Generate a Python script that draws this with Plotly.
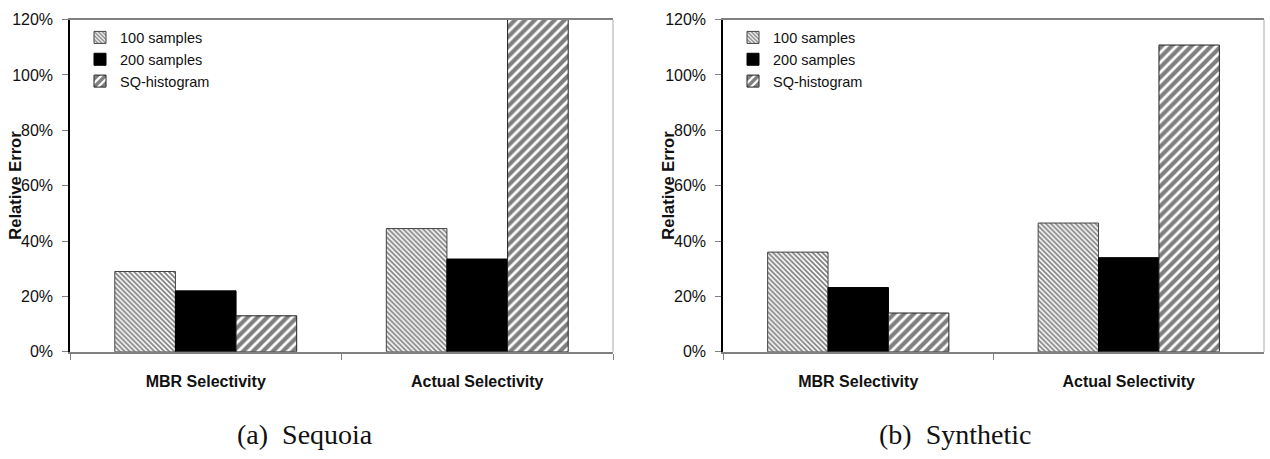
import plotly.graph_objects as go

# Relative error (%) of selectivity estimation
categories = ["MBR Selectivity", "Actual Selectivity"]
series_names = ["100 samples", "200 samples", "SQ-histogram"]

sequoia_100 = [29, 44.5]
sequoia_200 = [22, 33.5]
sequoia_sq = [13, 140]

synthetic_100 = [36, 46.5]
synthetic_200 = [23.2, 34]
synthetic_sq = [14, 110.8]

y_ticks = [0, 20, 40, 60, 80, 100, 120]
y_tick_labels = ["0%", "20%", "40%", "60%", "80%", "100%", "120%"]

W, H = 1270, 459

styles = [
    dict(color="white", line=dict(color="#444444", width=1),
         pattern=dict(shape="\\", size=3.5, solidity=0.5, fgcolor="black", bgcolor="white")),
    dict(color="black", line=dict(color="black", width=1)),
    dict(color="white", line=dict(color="#222222", width=1),
         pattern=dict(shape="/", size=7, solidity=0.6, fgcolor="black", bgcolor="white")),
]

fig = go.Figure()

panels = [
    ("x", "y", "legend", [sequoia_100, sequoia_200, sequoia_sq]),
    ("x2", "y2", "legend2", [synthetic_100, synthetic_200, synthetic_sq]),
]
for xa, ya, lg, data in panels:
    for name, vals, st in zip(series_names, data, styles):
        fig.add_trace(go.Bar(
            x=categories, y=vals, name=name, marker=st,
            xaxis=xa, yaxis=ya, legend=lg, hoverinfo="skip",
        ))

def px_x(p):
    return p / W

def px_y(p):
    return 1 - p / H

top, bottom = 12, 357
doms_x = [(70, 613), (723, 1264)]

tick_font = dict(family="Liberation Sans, Arial", size=16, color="#111111")
cat_font = dict(family="Liberation Sans, Arial", size=16, color="#111111", weight="bold")

for i, (x0, x1) in enumerate(doms_x):
    sx = "" if i == 0 else "2"
    fig.update_layout(**{
        f"xaxis{sx}": dict(
            domain=[px_x(x0), px_x(x1)], anchor=f"y{sx}",
            showline=True, linecolor="#808080", linewidth=1.5, mirror=True,
            ticks="outside", tickson="boundaries", ticklen=6, tickcolor="#808080",
            tickfont=cat_font, ticklabelstandoff=14, showgrid=False, fixedrange=True,
        ),
        f"yaxis{sx}": dict(
            domain=[px_y(bottom), px_y(top)], anchor=f"x{sx}",
            range=[0, 120], tickvals=y_ticks, ticktext=y_tick_labels,
            showline=True, linecolor="black", linewidth=1.5,
            ticks="outside", ticklen=6, tickcolor="#808080",
            tickfont=tick_font, ticklabelstandoff=6, showgrid=False, zeroline=False,
            fixedrange=True,
        ),
    })
    # right-hand frame edge of the plot area
    fig.add_shape(type="line", xref="paper", yref="paper",
                  x0=px_x(x1), x1=px_x(x1), y0=px_y(bottom), y1=px_y(top),
                  line=dict(color="#b8b8b8", width=1.2))
    # y-axis title
    fig.add_annotation(text="<b>Relative Error</b>", textangle=-90,
                       xref="paper", yref="paper", x=px_x(x0 - 55), y=px_y((top + bottom) / 2),
                       xanchor="center", yanchor="middle", showarrow=False,
                       font=dict(family="Liberation Sans, Arial", size=16.5, color="#111111"))

legend_common = dict(
    xanchor="left", yanchor="top", bgcolor="rgba(0,0,0,0)", borderwidth=0,
    font=dict(family="Liberation Sans, Arial", size=14.5, color="#111111"),
    tracegroupgap=0, itemclick=False, itemdoubleclick=False,
)
fig.update_layout(
    legend=dict(x=px_x(80), y=px_y(14), **legend_common),
    legend2=dict(x=px_x(733), y=px_y(14), **legend_common),
)

captions = [("(a)  Sequoia", 305), ("(b)  Synthetic", 955)]
for text, cx in captions:
    fig.add_annotation(text=text, xref="paper", yref="paper",
                       x=px_x(cx), y=px_y(443), xanchor="center", yanchor="middle",
                       showarrow=False,
                       font=dict(family="Liberation Serif, serif", size=28, color="#111111"))

fig.update_layout(
    width=W, height=H, margin=dict(l=0, r=0, t=0, b=0),
    paper_bgcolor="white", plot_bgcolor="white",
    barmode="group", bargap=0.33, bargroupgap=0,
    showlegend=True,
)

fig.write_html("out.html", config={"displayModeBar": False})
